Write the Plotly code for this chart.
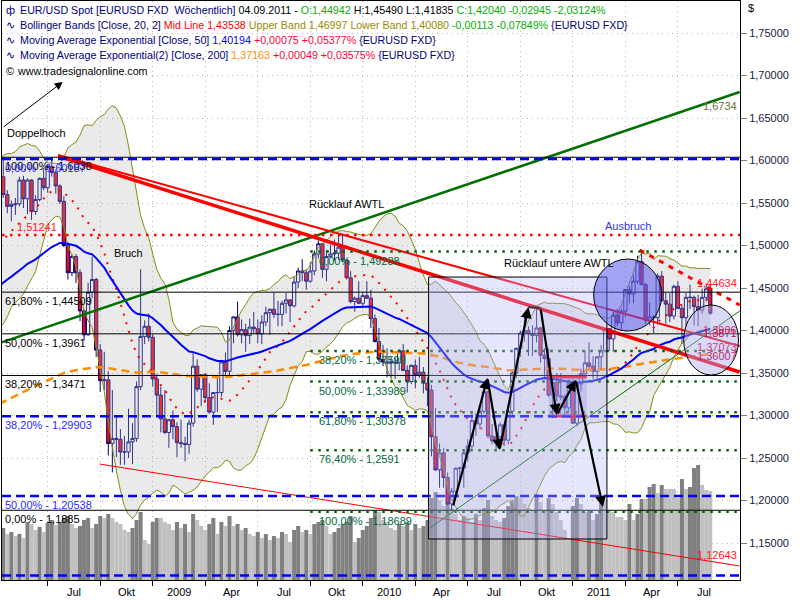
import pandas as pd
import plotly.graph_objects as go

# ---------------- data ----------------
last_bar = "2011-08-29"          # weekly bars, Monday-dated

closes_before = [1.4640, 1.4420, 1.4360, 1.4720, 1.4760, 1.4800, 1.4620, 1.4690, 1.4830, 1.4500,
                 1.4650, 1.4800, 1.5200, 1.5350, 1.5650, 1.5420, 1.5800, 1.5600, 1.5800]

opens = [1.5720, 1.5810, 1.5600, 1.5460, 1.5480, 1.5490, 1.5770, 1.5550, 1.5770, 1.5400,
         1.5540, 1.5790, 1.5680, 1.5930, 1.5860, 1.5700, 1.5520, 1.5000, 1.4680, 1.4870,
         1.4680, 1.4230, 1.3950, 1.4450, 1.4600, 1.3770, 1.3410, 1.3420, 1.2670, 1.2730,
         1.2720, 1.2570, 1.2570, 1.2690, 1.2730, 1.3340, 1.3930, 1.4050, 1.3920, 1.3430,
         1.3240, 1.2960, 1.2800, 1.2950, 1.2870, 1.2680, 1.2670, 1.2660, 1.2910, 1.3580,
         1.3310, 1.3480, 1.3210, 1.3040, 1.3270, 1.3270, 1.3630, 1.3520, 1.4000, 1.4160,
         1.3950, 1.4010, 1.3940, 1.4040, 1.4020, 1.3960, 1.4100, 1.4210, 1.4250, 1.4190,
         1.4190, 1.4320, 1.4360, 1.4290, 1.4570, 1.4700, 1.4680, 1.4580, 1.4700, 1.4900,
         1.5020, 1.4720, 1.4870, 1.4900, 1.4910, 1.4980, 1.4830, 1.4620, 1.4340, 1.4380,
         1.4320, 1.4410, 1.4380, 1.4140, 1.3870, 1.3660, 1.3630, 1.3620, 1.3630, 1.3620,
         1.3760, 1.3530, 1.3400, 1.3590, 1.3480, 1.3510, 1.3380, 1.3300, 1.2750, 1.2360,
         1.2560, 1.2270, 1.1960, 1.2110, 1.2380, 1.2380, 1.2560, 1.2640, 1.2940, 1.2900,
         1.3050, 1.3280, 1.2760, 1.2700, 1.2750, 1.2890, 1.2710, 1.3050, 1.3500, 1.3790,
         1.3970, 1.4000, 1.3960, 1.3940, 1.4030, 1.3710, 1.3670, 1.3240, 1.3390, 1.3230,
         1.3220, 1.3090, 1.3380, 1.2910, 1.3370, 1.3490, 1.3620, 1.3580, 1.3520, 1.3690,
         1.3760, 1.4020, 1.3900, 1.4180, 1.4090, 1.4230, 1.4480, 1.4430, 1.4580, 1.4810,
         1.4540, 1.4120, 1.4160, 1.4150, 1.4640, 1.4350, 1.4310, 1.4170, 1.4520, 1.4260,
         1.4150, 1.4390, 1.4390, 1.4280, 1.4240, 1.4390, 1.44942]

highs = [1.5980, 1.6019, 1.5650, 1.5530, 1.5560, 1.5810, 1.5820, 1.5790, 1.5780, 1.5590,
         1.5800, 1.5910, 1.5960, 1.6038, 1.5890, 1.5720, 1.5580, 1.5040, 1.4900, 1.4900,
         1.4720, 1.4250, 1.4560, 1.4870, 1.4620, 1.3840, 1.3750, 1.3520, 1.3300, 1.3000,
         1.2840, 1.2760, 1.3080, 1.2910, 1.3400, 1.4720, 1.4120, 1.4200, 1.3960, 1.3490,
         1.3340, 1.3300, 1.2960, 1.3060, 1.2920, 1.2950, 1.2750, 1.2950, 1.3740, 1.3660,
         1.3470, 1.3500, 1.3380, 1.3270, 1.3440, 1.3650, 1.3740, 1.4050, 1.4160, 1.4340,
         1.4130, 1.4080, 1.4140, 1.4220, 1.4130, 1.4180, 1.4280, 1.4260, 1.4450, 1.4350,
         1.4350, 1.4440, 1.4370, 1.4630, 1.4740, 1.4840, 1.4720, 1.4800, 1.4940, 1.5060,
         1.5030, 1.4950, 1.5010, 1.5070, 1.5144, 1.5140, 1.4840, 1.4700, 1.4400, 1.4580,
         1.4450, 1.4580, 1.4480, 1.4190, 1.4030, 1.3830, 1.3790, 1.3690, 1.3680, 1.3780,
         1.3840, 1.3590, 1.3600, 1.3660, 1.3690, 1.3570, 1.3450, 1.3360, 1.3090, 1.2670,
         1.2620, 1.2330, 1.2150, 1.2390, 1.2400, 1.2590, 1.2720, 1.3030, 1.3030, 1.3120,
         1.3333, 1.3290, 1.2900, 1.2790, 1.2920, 1.2900, 1.3130, 1.3520, 1.3800, 1.4000,
         1.4160, 1.4050, 1.4060, 1.4282, 1.4040, 1.3790, 1.3790, 1.3420, 1.3500, 1.3500,
         1.3250, 1.3420, 1.3430, 1.3400, 1.3550, 1.3760, 1.3860, 1.3700, 1.3700, 1.3830,
         1.4030, 1.4030, 1.4220, 1.4250, 1.4250, 1.4490, 1.4520, 1.4650, 1.4880, 1.4940,
         1.4560, 1.4330, 1.4180, 1.4670, 1.4700, 1.4450, 1.4440, 1.4540, 1.4580, 1.4290,
         1.4440, 1.4540, 1.4410, 1.4420, 1.4490, 1.4550, 1.45490]

lows = [1.5670, 1.5560, 1.5380, 1.5285, 1.5360, 1.5460, 1.5440, 1.5370, 1.5300, 1.5360,
        1.5520, 1.5650, 1.5620, 1.5810, 1.5610, 1.5490, 1.4980, 1.4600, 1.4640, 1.4560,
        1.4110, 1.3880, 1.3940, 1.4380, 1.3690, 1.3280, 1.3300, 1.2530, 1.2330, 1.2510,
        1.2420, 1.2420, 1.2500, 1.2430, 1.2690, 1.3300, 1.3840, 1.3870, 1.3340, 1.2980,
        1.2800, 1.2780, 1.2620, 1.2720, 1.2510, 1.2620, 1.2460, 1.2550, 1.2870, 1.3280,
        1.3110, 1.3150, 1.3020, 1.2890, 1.3040, 1.3220, 1.3460, 1.3440, 1.3850, 1.3930,
        1.3850, 1.3750, 1.3840, 1.3960, 1.3850, 1.3840, 1.4050, 1.3950, 1.4150, 1.4050,
        1.4050, 1.4200, 1.4100, 1.4270, 1.4500, 1.4580, 1.4480, 1.4560, 1.4650, 1.4850,
        1.4620, 1.4580, 1.4860, 1.4820, 1.4830, 1.4800, 1.4600, 1.4320, 1.4220, 1.4310,
        1.4260, 1.4370, 1.4030, 1.3860, 1.3630, 1.3580, 1.3450, 1.3440, 1.3430, 1.3530,
        1.3530, 1.3270, 1.3370, 1.3320, 1.3440, 1.3260, 1.3110, 1.2520, 1.2350, 1.2150,
        1.2150, 1.1950, 1.1876, 1.2050, 1.2230, 1.2150, 1.2460, 1.2600, 1.2760, 1.2840,
        1.3020, 1.2730, 1.2660, 1.2588, 1.2650, 1.2640, 1.2660, 1.2980, 1.3440, 1.3690,
        1.3870, 1.3700, 1.3700, 1.3860, 1.3620, 1.3450, 1.3220, 1.2969, 1.3170, 1.3180,
        1.3010, 1.3050, 1.2900, 1.2874, 1.3280, 1.3480, 1.3530, 1.3430, 1.3430, 1.3530,
        1.3740, 1.3760, 1.3750, 1.4050, 1.4000, 1.4160, 1.4320, 1.4320, 1.4550, 1.4530,
        1.4080, 1.4060, 1.3970, 1.4070, 1.4340, 1.4080, 1.4100, 1.4130, 1.4250, 1.3840,
        1.4050, 1.4250, 1.4060, 1.4050, 1.4200, 1.4340, 1.41835]

closes = [1.5810, 1.5600, 1.5460, 1.5480, 1.5490, 1.5770, 1.5550, 1.5770, 1.5400, 1.5540,
          1.5790, 1.5680, 1.5930, 1.5860, 1.5700, 1.5520, 1.5000, 1.4680, 1.4870, 1.4680,
          1.4230, 1.3950, 1.4450, 1.4600, 1.3770, 1.3410, 1.3420, 1.2670, 1.2730, 1.2720,
          1.2570, 1.2570, 1.2690, 1.2730, 1.3340, 1.3930, 1.4050, 1.3920, 1.3430, 1.3240,
          1.2960, 1.2800, 1.2950, 1.2870, 1.2680, 1.2670, 1.2660, 1.2910, 1.3580, 1.3310,
          1.3480, 1.3210, 1.3040, 1.3270, 1.3270, 1.3630, 1.3520, 1.4000, 1.4160, 1.3950,
          1.4010, 1.3940, 1.4040, 1.4020, 1.3960, 1.4100, 1.4210, 1.4250, 1.4190, 1.4190,
          1.4320, 1.4360, 1.4290, 1.4570, 1.4700, 1.4680, 1.4580, 1.4700, 1.4900, 1.5020,
          1.4720, 1.4870, 1.4900, 1.4910, 1.4980, 1.4830, 1.4620, 1.4340, 1.4380, 1.4320,
          1.4410, 1.4380, 1.4140, 1.3870, 1.3660, 1.3630, 1.3620, 1.3630, 1.3620, 1.3760,
          1.3530, 1.3400, 1.3590, 1.3480, 1.3510, 1.3380, 1.3300, 1.2750, 1.2360, 1.2560,
          1.2270, 1.1960, 1.2110, 1.2380, 1.2380, 1.2560, 1.2640, 1.2940, 1.2900, 1.3050,
          1.3280, 1.2760, 1.2700, 1.2750, 1.2890, 1.2710, 1.3050, 1.3500, 1.3790, 1.3970,
          1.4000, 1.3960, 1.3940, 1.4030, 1.3710, 1.3670, 1.3240, 1.3390, 1.3230, 1.3220,
          1.3090, 1.3380, 1.2910, 1.3370, 1.3490, 1.3620, 1.3580, 1.3520, 1.3690, 1.3760,
          1.4020, 1.3900, 1.4180, 1.4090, 1.4230, 1.4480, 1.4430, 1.4580, 1.4810, 1.4540,
          1.4120, 1.4160, 1.4150, 1.4640, 1.4350, 1.4310, 1.4170, 1.4520, 1.4260, 1.4150,
          1.4390, 1.4390, 1.4280, 1.4240, 1.4390, 1.4490, 1.42040]

volumes = [50, 52, 46, 48, 44, 46, 42, 58, 56, 50, 53, 48, 57, 60, 55, 58, 62, 64, 56, 52,
           54, 60, 62, 52, 56, 64, 62, 66, 62, 58, 56, 50, 48, 52, 60, 68, 40, 36, 58, 62,
           62, 58, 56, 50, 58, 52, 56, 48, 66, 60, 54, 50, 56, 62, 46, 58, 54, 64, 54, 56,
           50, 52, 46, 44, 48, 42, 46, 40, 44, 42, 48, 46, 38, 50, 54, 48, 50, 46, 56, 58,
           60, 54, 46, 48, 52, 56, 58, 64, 38, 42, 50, 54, 62, 70, 68, 60, 58, 52, 50, 56,
           54, 58, 50, 56, 52, 54, 60, 82, 88, 80, 74, 76, 72, 66, 60, 64, 62, 58, 66, 60,
           72, 80, 64, 60, 58, 62, 74, 80, 84, 82, 76, 72, 70, 86, 78, 70, 82, 76, 68, 60,
           50, 40, 74, 82, 76, 68, 70, 60, 66,
           80, 80, 70, 68, 63, 63, 60, 76, 60, 66, 81, 81, 93, 96, 87, 95, 91, 91, 91, 82,
           101, 91, 93, 112, 115, 95, 90, 89]

ema50_start = 1.447
ema200_start = 1.311

fib_black_levels = [1.6038, 1.44509, 1.3961, 1.3471, 1.1885]
fib_black_labels = ["100,00% - 1,6038", "61,80% - 1,44509", "50,00% - 1,3961",
                    "38,20% - 1,3471", "0,00% - 1,1885"]
fib_blue_levels = [1.60187, 1.29903, 1.20538, 1.11174]
fib_blue_labels = ["0,00% - 1,60187", "38,20% - 1,29903", "50,00% - 1,20538", ""]
fib_green_levels = [1.49288, 1.37599, 1.33989, 1.30378, 1.2591, 1.18689]
fib_green_labels = ["0,00% - 1,49288", "38,20% - 1,37599", "50,00% - 1,33989",
                    "61,80% - 1,30378", "76,40% - 1,2591", "100,00% - 1,18689"]
fib_green_start = "2009-10-05"
fib_green_label_date = "2009-10-16"
high_level = 1.51241

green_trend_dates = ["2008-04-15", "2011-10-19"]
green_trend_prices = [1.3853, 1.6806]
red_a_dates = ["2008-07-25", "2011-10-19"]
red_a_prices = [1.6065, 1.3818]
red_b_dates = ["2008-07-25", "2011-10-19"]
red_b_prices = [1.6053, 1.3512]
red_low_dates = ["2008-10-05", "2011-10-19"]
red_low_prices = [1.2429, 1.1229]
thin_green_dates = ["2010-04-30", "2011-10-19"]
thin_green_prices = [1.1676, 1.4229]
breakout_dates = ["2011-04-29", "2011-10-19"]
breakout_prices = [1.4947, 1.4300]

zz_dates = ["2010-06-09", "2010-08-08", "2010-08-29", "2010-10-18", "2010-11-08",
            "2010-12-06", "2011-01-08", "2011-02-24"]
zz_prices = [1.1924, 1.3441, 1.2594, 1.4276, 1.4265, 1.3006, 1.3418, 1.1924]

box_dates = ["2010-04-28", "2011-03-03"]
box_prices = [1.1547, 1.4629]
inner_box_dates = ["2010-11-22", "2011-01-27"]
inner_box_prices = [1.2994, 1.3453]
ellipse1_dates = ["2011-02-08", "2011-06-06"]
ellipse1_prices = [1.3994, 1.4841]
ellipse2_dates = ["2011-07-14", "2011-10-17"]
ellipse2_prices = [1.3476, 1.4300]
web_arrow_dates = ["2008-04-19", "2008-08-02"]
web_arrow_prices = [1.6382, 1.6924]

right_labels = ["1,6734", "1,44634", "1,12643", "1,3906", "1,3871", "1,37073", "1,36007"]
right_label_values = [1.6734, 1.44634, 1.12643, 1.3906, 1.3871, 1.37073, 1.36007]

x_range = ["2008-04-18 19:40", "2011-10-19 14:00"]
y_range = [1.10647, 1.78765]

# ---------------- derived series ----------------
dates = pd.date_range(end=last_bar, periods=len(closes), freq="W-MON")
allc = pd.Series(closes_before + closes)
n0 = len(closes_before)
mid = allc.rolling(20).mean().iloc[n0:].values
sd = allc.rolling(20).std(ddof=0).iloc[n0:].values
upper = mid + 2 * sd
lower = mid - 2 * sd


def ema(vals, span, start):
    a = 2.0 / (span + 1)
    out, prev = [], start
    for v in vals:
        prev = prev + a * (v - prev)
        out.append(prev)
    return out


ema50 = ema(closes, 50, ema50_start)
ema200 = ema(closes, 200, ema200_start)

vol_colors = ["#c0c0c0"] + ["#808080" if volumes[i] > volumes[i - 1] else "#c0c0c0"
                            for i in range(1, len(volumes))]

FONT = "Liberation Sans, Arial, sans-serif"
NAVY = "#000080"


def px(x):
    return (x - 2) / 738.0


def py(y):
    return (580 - y) / 579.0


fig = go.Figure()

# volume (bottom layer, primary y)
fig.add_trace(go.Bar(x=dates, y=volumes, marker=dict(color=vol_colors, line=dict(width=0)),
                     width=7 * 86400000, yaxis="y", hoverinfo="skip", showlegend=False))

# bollinger fill
fig.add_trace(go.Scatter(x=dates, y=lower, yaxis="y2", mode="lines", line=dict(width=0),
                         hoverinfo="skip", showlegend=False))
fig.add_trace(go.Scatter(x=dates, y=upper, yaxis="y2", mode="lines", line=dict(width=0),
                         fill="tonexty", fillcolor="rgba(180,180,180,0.28)",
                         hoverinfo="skip", showlegend=False))

# candles
fig.add_trace(go.Candlestick(
    x=dates, open=opens, high=highs, low=lows, close=closes, yaxis="y2",
    increasing=dict(line=dict(color=NAVY, width=1), fillcolor="#ffffff"),
    decreasing=dict(line=dict(color=NAVY, width=1), fillcolor="#ff0000"),
    whiskerwidth=0, hoverinfo="skip", showlegend=False))

# bollinger lines
for band in (upper, lower):
    fig.add_trace(go.Scatter(x=dates, y=band, yaxis="y2", mode="lines",
                             line=dict(color="#8a8a10", width=1), hoverinfo="skip", showlegend=False))
fig.add_trace(go.Scatter(x=dates, y=mid, yaxis="y2", mode="lines",
                         line=dict(color="#ff0000", width=2, dash="2px,7px"),
                         hoverinfo="skip", showlegend=False))
fig.add_trace(go.Scatter(x=dates, y=ema200, yaxis="y2", mode="lines",
                         line=dict(color="#ff8c00", width=2.5, dash="8px,5px"),
                         hoverinfo="skip", showlegend=False))
fig.add_trace(go.Scatter(x=dates, y=ema50, yaxis="y2", mode="lines",
                         line=dict(color="#0000ff", width=2), hoverinfo="skip", showlegend=False))


def seg(xs, ys, color, width, dash="solid"):
    fig.add_trace(go.Scatter(x=xs, y=ys, yaxis="y2", mode="lines",
                             line=dict(color=color, width=width, dash=dash),
                             hoverinfo="skip", showlegend=False))


seg(green_trend_dates, green_trend_prices, "#007000", 2.5)
seg(red_a_dates, red_a_prices, "#ff0000", 2)
seg(red_b_dates, red_b_prices, "#ff0000", 3.5)
seg(red_low_dates, red_low_prices, "#ff0000", 1)
seg(thin_green_dates, thin_green_prices, "#007000", 1)
seg(breakout_dates, breakout_prices, "#ff0000", 3, "5px,6px")
seg(zz_dates[3:5], zz_prices[3:5], "#000000", 2.2)
seg(inner_box_dates, [inner_box_prices[1]] * 2, "#ff0000", 3)
seg(inner_box_dates, [inner_box_prices[0]] * 2, "#ff0000", 3)

shapes = []
for lv in fib_black_levels:
    shapes.append(dict(type="line", xref="paper", x0=0, x1=1, yref="y2", y0=lv, y1=lv,
                       line=dict(color="#000000", width=1), layer="above"))
for lv in fib_blue_levels:
    shapes.append(dict(type="line", xref="paper", x0=0, x1=1, yref="y2", y0=lv, y1=lv,
                       line=dict(color="#0000ff", width=2.5, dash="9px,5px"), layer="above"))
for lv in fib_green_levels:
    shapes.append(dict(type="line", xref="x", x0=fib_green_start, x1=x_range[1], yref="y2",
                       y0=lv, y1=lv, line=dict(color="#006400", width=2.5, dash="2.5px,5.5px"),
                       layer="above"))
shapes.append(dict(type="line", xref="paper", x0=0, x1=1, yref="y2", y0=high_level, y1=high_level,
                   line=dict(color="#ff0000", width=2.5, dash="2.5px,5.5px"), layer="above"))
shapes.append(dict(type="rect", xref="x", yref="y2", x0=box_dates[0], x1=box_dates[1],
                   y0=box_prices[0], y1=box_prices[1], fillcolor="rgba(180,180,255,0.33)",
                   line=dict(color="#000000", width=1), layer="above"))
shapes.append(dict(type="rect", xref="x", yref="y2", x0=inner_box_dates[0], x1=inner_box_dates[1],
                   y0=inner_box_prices[0], y1=inner_box_prices[1], fillcolor="rgba(140,140,230,0.3)",
                   line=dict(width=0), layer="above"))
shapes.append(dict(type="circle", xref="x", yref="y2", x0=ellipse1_dates[0], x1=ellipse1_dates[1],
                   y0=ellipse1_prices[0], y1=ellipse1_prices[1], fillcolor="rgba(90,90,235,0.55)",
                   line=dict(color="#000000", width=1), layer="above"))
shapes.append(dict(type="circle", xref="x", yref="y2", x0=ellipse2_dates[0], x1=ellipse2_dates[1],
                   y0=ellipse2_prices[0], y1=ellipse2_prices[1], fillcolor="rgba(170,170,240,0.45)",
                   line=dict(color="#000000", width=1), layer="above"))

ann = []


def txt(text, x, y, color="#000000", xanchor="center", yanchor="middle", xref="paper",
        yref="paper", size=11, xshift=0, yshift=0):
    ann.append(dict(text=text, x=x, y=y, xref=xref, yref=yref, showarrow=False,
                    xanchor=xanchor, yanchor=yanchor, xshift=xshift, yshift=yshift,
                    font=dict(family=FONT, size=size, color=color)))


for lv, lab in zip(fib_black_levels, fib_black_labels):
    txt(lab, px(3), lv, "#000000", "left", "top", yref="y2", yshift=-1)
for lv, lab in zip(fib_blue_levels, fib_blue_labels):
    if lab:
        txt(lab, px(3), lv, "#2a2aff", "left", "top", yref="y2", yshift=-1)
for lv, lab in zip(fib_green_levels, fib_green_labels):
    txt(lab, fib_green_label_date, lv, "#006a3a", "left", "top", xref="x", yref="y2", yshift=-1)
txt("1,51241", px(15), high_level, "#ff2020", "left", "bottom", yref="y2")

right_colors = ["#707040", "#ff2020", "#ff2020", "#e0306a", "#b02050", "#d04080", "#c03070"]
for i, (lab, v) in enumerate(zip(right_labels, right_label_values)):
    txt(lab, 1, v, right_colors[i], "right", "top" if i == 0 else "bottom", yref="y2", xshift=-1)

txt("Doppelhoch", px(36), py(133))
txt("Bruch", px(128), py(253))
txt("Rücklauf AWTL", px(346), py(204))
txt("Rücklauf untere AWTL", px(559), py(263))
txt("Ausbruch", px(628), py(226), "#3030ff")
txt("$", px(746), py(8), "#000000", "left", size=11)

# zigzag arrows
for i in range(len(zz_dates) - 1):
    if i == 3:
        continue
    ann.append(dict(x=zz_dates[i + 1], y=zz_prices[i + 1], ax=zz_dates[i], ay=zz_prices[i],
                    xref="x", yref="y2", axref="x", ayref="y2", text="", showarrow=True,
                    arrowhead=2, arrowsize=1, arrowwidth=2.2, arrowcolor="#000000", standoff=0))
ann.append(dict(x=web_arrow_dates[1], y=web_arrow_prices[1], ax=web_arrow_dates[0], ay=web_arrow_prices[0],
                xref="x", yref="y2", axref="x", ayref="y2", text="", showarrow=True,
                arrowhead=2, arrowsize=1.6, arrowwidth=1, arrowcolor="#000000", standoff=0))

# header lines
hdr = [
    ("ф", "<span style='color:#000080'>EUR/USD Spot [EURUSD FXD\u00a0\u00a0Wöchentlich]</span> 04.09.2011 - "
          "<span style='color:#00b000'>O:1,44942</span> H:1,45490 L:1,41835 "
          "<span style='color:#00b000'>C:1,42040 -0,02945 -2,03124%</span>"),
    ("∿", "<span style='color:#000080'>Bollinger Bands [Close, 20, 2]</span> "
          "<span style='color:#ff0000'>Mid Line 1,43538</span> "
          "<span style='color:#9a8a00'>Upper Band 1,46997 Lower Band 1,40080</span> "
          "<span style='color:#00b000'>-0,00113 -0,07849%</span> "
          "<span style='color:#000080'>{EURUSD FXD}</span>"),
    ("∿", "<span style='color:#000080'>Moving Average Exponential [Close, 50]</span> "
          "<span style='color:#0000ff'>1,40194</span> "
          "<span style='color:#ff0040'>+0,00075 +0,05377%</span> "
          "<span style='color:#000080'>{EURUSD FXD}</span>"),
    ("∿", "<span style='color:#000080'>Moving Average Exponential(2) [Close, 200]</span> "
          "<span style='color:#ff8c00'>1,37163</span> "
          "<span style='color:#ff0040'>+0,00049 +0,03575%</span> "
          "<span style='color:#000080'>{EURUSD FXD}</span>"),
    ("©", "www.tradesignalonline.com"),
]
hdr_y = [10, 25, 40, 55, 71]
for (icon, t), yy in zip(hdr, hdr_y):
    txt(icon, px(4), py(yy), NAVY if icon != "©" else "#000000", "left")
    txt(t, px(18 if icon != "©" else 15), py(yy), "#000000", "left", size=10.7)

# x tick labels (quarters, first bar of the quarter month)
tick_dates = [d for i, d in enumerate(dates)
              if i > 0 and d.month in (1, 4, 7, 10) and dates[i - 1].month != d.month]
month_names = {4: "Apr", 7: "Jul", 10: "Okt"}
for d in tick_dates:
    lab = str(d.year) if d.month == 1 else month_names[d.month]
    txt(lab, d + pd.Timedelta(days=45), py(592), "#000000", xref="x")

fig.update_layout(
    width=800, height=600, margin=dict(l=2, r=60, t=1, b=20),
    paper_bgcolor="white", plot_bgcolor="white", separators=",.",
    boxgap=0.15, boxgroupgap=0.05,
    shapes=shapes, annotations=ann, showlegend=False,
    font=dict(family=FONT, size=11, color="#000000"),
    xaxis=dict(type="date", range=x_range, rangeslider=dict(visible=False),
               tickvals=tick_dates, ticktext=[""] * len(tick_dates),
               ticks="outside", ticklen=5, tickcolor="#000000",
               showgrid=True, gridcolor="#b8b8b8", griddash="1px,4px", gridwidth=1,
               showline=True, linecolor="#000000", linewidth=1, mirror=True, zeroline=False),
    yaxis=dict(range=[0, 579], visible=False, fixedrange=True),
    yaxis2=dict(overlaying="y", side="right", range=y_range, tick0=1.0, dtick=0.05,
                tickformat=".5f", ticks="outside", ticklen=6, tickcolor="#808080",
                tickfont=dict(family=FONT, size=11, color="#1a1a3a"),
                showgrid=True, gridcolor="#b8b8b8", griddash="1px,4px", gridwidth=1,
                showline=True, linecolor="#000000", linewidth=1, mirror=True, zeroline=False),
)

fig.write_html("out.html", config={"displayModeBar": False, "staticPlot": True},
               post_script="document.body.style.margin='0px';document.body.style.overflow='hidden';")
